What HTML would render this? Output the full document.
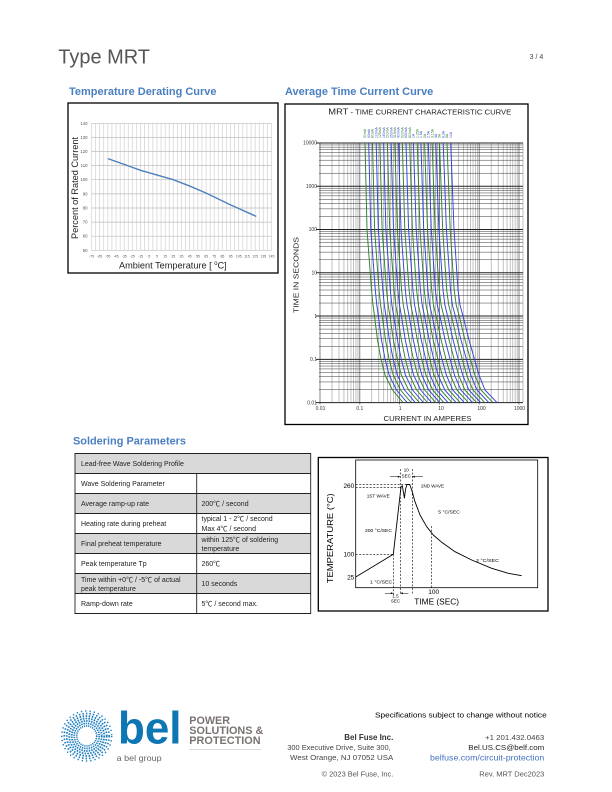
<!DOCTYPE html>
<html><head><meta charset="utf-8"><style>
html,body{margin:0;padding:0;background:#fff;}
svg{display:block;}
text{font-family:"Liberation Sans","Noto Sans CJK JP",sans-serif;}
</style></head><body>
<svg width="612" height="792" viewBox="0 0 612 792" xmlns="http://www.w3.org/2000/svg">
<defs>
<pattern id="vg" x="89.5" y="0" width="4.091" height="10" patternUnits="userSpaceOnUse"><line x1="2" y1="0" x2="2" y2="10" stroke="#c9c9c9" stroke-width="0.6"/></pattern>
</defs>
<rect width="612" height="792" fill="#fff"/>

<!-- header -->
<text x="58.3" y="63.3" font-size="20.5" fill="#555" textLength="91.7" lengthAdjust="spacingAndGlyphs">Type MRT</text>
<text x="543.3" y="59" font-size="7" fill="#444" text-anchor="end">3 / 4</text>

<text x="69" y="95" font-size="11" font-weight="bold" fill="#4a7fc1" textLength="147.5" lengthAdjust="spacingAndGlyphs">Temperature Derating Curve</text>
<text x="285" y="95" font-size="11" font-weight="bold" fill="#4a7fc1" textLength="148.3" lengthAdjust="spacingAndGlyphs">Average Time Current Curve</text>

<!-- Derating chart -->
<rect x="68" y="103" width="210" height="170" fill="#fff" stroke="#000" stroke-width="1.3"/>
<rect x="90" y="123.3" width="182.5" height="127" fill="url(#vg)"/>
<path d="M91.5 123.3H271.5M91.5 137.4H271.5M91.5 151.5H271.5M91.5 165.6H271.5M91.5 179.7H271.5M91.5 193.9H271.5M91.5 208H271.5M91.5 222.1H271.5M91.5 236.2H271.5M91.5 250.3H271.5" stroke="#bdbdbd" stroke-width="0.7" fill="none"/>
<g font-size="4.3" fill="#555" text-anchor="end">
<text x="87.5" y="124.8">140</text><text x="87.5" y="138.9">130</text><text x="87.5" y="153">120</text><text x="87.5" y="167.1">110</text><text x="87.5" y="181.2">100</text><text x="87.5" y="195.4">90</text><text x="87.5" y="209.5">80</text><text x="87.5" y="223.6">70</text><text x="87.5" y="237.7">60</text><text x="87.5" y="251.8">50</text>
</g>
<g font-size="3.5" fill="#555" text-anchor="middle">
<text x="91.5" y="257.3">-75</text><text x="99.7" y="257.3">-65</text><text x="107.9" y="257.3">-55</text><text x="116" y="257.3">-45</text><text x="124.2" y="257.3">-35</text><text x="132.4" y="257.3">-25</text><text x="140.6" y="257.3">-15</text><text x="148.8" y="257.3">-5</text><text x="157" y="257.3">5</text><text x="165.1" y="257.3">15</text><text x="173.3" y="257.3">25</text><text x="181.5" y="257.3">35</text><text x="189.7" y="257.3">45</text><text x="197.9" y="257.3">55</text><text x="206.1" y="257.3">65</text><text x="214.2" y="257.3">75</text><text x="222.4" y="257.3">85</text><text x="230.6" y="257.3">95</text><text x="238.8" y="257.3">105</text><text x="247" y="257.3">115</text><text x="255.1" y="257.3">125</text><text x="263.3" y="257.3">135</text><text x="271.5" y="257.3">145</text>
</g>
<path d="M107.9 158.6L140.6 170.3L173.3 179.7L190 186.2L206 193L230 204.6L256.3 216.4" fill="none" stroke="#4f81bd" stroke-width="1.4"/>
<text transform="translate(77.8,188) rotate(-90)" font-size="9.5" fill="#222" text-anchor="middle" textLength="102" lengthAdjust="spacingAndGlyphs">Percent of Rated Current</text>
<text x="119" y="268.5" font-size="9.5" fill="#222" textLength="107.7" lengthAdjust="spacingAndGlyphs">Ambient Temperature [ <tspan font-size="6" dy="-3.5">o</tspan><tspan dy="3.5">C]</tspan></text>

<!-- TCC chart -->
<rect x="285" y="104" width="243" height="320.5" fill="#fff" stroke="#000" stroke-width="1.3"/>
<text x="328.3" y="114.5" font-size="7" fill="#222" textLength="183" lengthAdjust="spacingAndGlyphs"><tspan font-size="8.5">MRT</tspan> - TIME CURRENT CHARACTERISTIC CURVE</text>
<path fill="none" stroke="#9a9a9a" stroke-width="0.6" d="M331.98 143V402.6M338.99 143V402.6M343.96 143V402.6M347.82 143V402.6M350.97 143V402.6M353.63 143V402.6M355.94 143V402.6M357.98 143V402.6M371.78 143V402.6M378.79 143V402.6M383.76 143V402.6M387.62 143V402.6M390.77 143V402.6M393.43 143V402.6M395.74 143V402.6M397.78 143V402.6M411.58 143V402.6M418.59 143V402.6M423.56 143V402.6M427.42 143V402.6M430.57 143V402.6M433.23 143V402.6M435.54 143V402.6M437.58 143V402.6M451.38 143V402.6M458.39 143V402.6M463.36 143V402.6M467.22 143V402.6M470.37 143V402.6M473.03 143V402.6M475.34 143V402.6M477.38 143V402.6M491.18 143V402.6M498.19 143V402.6M503.16 143V402.6M507.02 143V402.6M510.17 143V402.6M512.83 143V402.6M515.14 143V402.6M517.18 143V402.6M523 143V402.6"/>
<path fill="none" stroke="#666" stroke-width="0.8" d="M320 143V404.5M359.8 143V404.5M399.6 143V404.5M439.4 143V404.5M479.2 143V404.5M519 143V404.5"/>
<path fill="none" stroke="#3a3a3a" stroke-width="0.5" d="M319 389.58H523M319 381.95H523M319 376.55H523M319 372.36H523M319 368.93H523M319 366.03H523M319 363.52H523M319 361.31H523M319 346.31H523M319 338.68H523M319 333.28H523M319 329.09H523M319 325.66H523M319 322.76H523M319 320.25H523M319 318.04H523M319 303.04H523M319 295.41H523M319 290.01H523M319 285.82H523M319 282.39H523M319 279.49H523M319 276.98H523M319 274.77H523M319 259.77H523M319 252.14H523M319 246.74H523M319 242.55H523M319 239.12H523M319 236.22H523M319 233.71H523M319 231.5H523M319 216.5H523M319 208.87H523M319 203.47H523M319 199.28H523M319 195.85H523M319 192.95H523M319 190.44H523M319 188.23H523M319 173.23H523M319 165.6H523M319 160.2H523M319 156.01H523M319 152.58H523M319 149.68H523M319 147.17H523M319 144.96H523"/>
<path fill="none" stroke="#222" stroke-width="1" d="M316 402.6H523M316 359.33H523M316 316.06H523M316 272.79H523M316 229.52H523M316 186.25H523M316 142.98H523"/>
<g font-size="5" fill="#333" text-anchor="end">
<text x="317" y="144.7">10000</text><text x="317" y="188">1000</text><text x="317" y="231.2">100</text><text x="317" y="274.5">10</text><text x="317" y="317.8">1</text><text x="317" y="361">0.1</text><text x="317" y="404.3">0.01</text>
</g>
<g font-size="5" fill="#333" text-anchor="middle">
<text x="320.5" y="410">0.01</text><text x="359.8" y="410">0.1</text><text x="400.2" y="410">1</text><text x="441" y="410">10</text><text x="481.5" y="410">100</text><text x="519.5" y="410">1000</text>
</g>
<text transform="translate(298.5,275) rotate(-90)" font-size="7.5" fill="#222" text-anchor="middle" textLength="76" lengthAdjust="spacingAndGlyphs">TIME IN SECONDS</text>
<text x="427.5" y="421" font-size="7.5" fill="#222" text-anchor="middle" textLength="88" lengthAdjust="spacingAndGlyphs">CURRENT IN AMPERES</text>

<g fill="none" stroke-width="0.95" stroke-linejoin="round">
<polyline stroke="#2a842a" points="365,143 367,229.5 371.5,290 373,305 374.5,316 377.5,340 381,359.3 385,375 392.5,390 403,402.6"/>
<polyline stroke="#3d3ddc" points="368.7,143 370.8,229.5 375.3,290 376.8,305 378.3,316 381.5,340 385.1,359.3 389.1,375 396.5,390 407.1,402.6"/>
<polyline stroke="#2a842a" points="372.5,143 374.6,229.5 379,290 380.6,305 382.2,316 385.5,340 389.1,359.3 393.2,375 400.5,390 411.2,402.6"/>
<polyline stroke="#3d3ddc" points="376.2,143 378.3,229.5 382.8,290 384.3,305 386,316 389.4,340 393.2,359.3 397.3,375 404.6,390 415.3,402.6"/>
<polyline stroke="#2a842a" points="379.9,143 382.1,229.5 386.5,290 388.1,305 389.9,316 393.4,340 397.3,359.3 401.3,375 408.6,390 419.3,402.6"/>
<polyline stroke="#3d3ddc" points="383.6,143 385.9,229.5 390.3,290 391.9,305 393.7,316 397.4,340 401.3,359.3 405.4,375 412.6,390 423.4,402.6"/>
<polyline stroke="#2a842a" points="387.4,143 389.7,229.5 394.1,290 395.7,305 397.6,316 401.4,340 405.4,359.3 409.5,375 416.6,390 427.5,402.6"/>
<polyline stroke="#3d3ddc" points="391.1,143 393.5,229.5 397.8,290 399.5,305 401.4,316 405.3,340 409.5,359.3 413.6,375 420.7,390 431.6,402.6"/>
<polyline stroke="#2a842a" points="394.8,143 397.3,229.5 401.6,290 403.3,305 405.3,316 409.3,340 413.5,359.3 417.7,375 424.7,390 435.7,402.6"/>
<polyline stroke="#3d3ddc" points="398.5,143 401,229.5 405.3,290 407,305 409.1,316 413.3,340 417.6,359.3 421.8,375 428.7,390 439.8,402.6"/>
<polyline stroke="#2a842a" points="402.3,143 404.8,229.5 409.1,290 410.8,305 413,316 417.3,340 421.7,359.3 425.9,375 432.7,390 443.9,402.6"/>
<polyline stroke="#3d3ddc" points="406,143 408.6,229.5 412.9,290 414.6,305 416.8,316 421.3,340 425.7,359.3 430,375 436.7,390 448,402.6"/>
<polyline stroke="#2a842a" points="409.7,143 412.4,229.5 416.6,290 418.4,305 420.7,316 425.2,340 429.8,359.3 434,375 440.8,390 452,402.6"/>
<polyline stroke="#3d3ddc" points="413.4,143 416.2,229.5 420.4,290 422.2,305 424.5,316 429.2,340 433.8,359.3 438.1,375 444.8,390 456.1,402.6"/>
<polyline stroke="#2a842a" points="417.2,143 420,229.5 424.2,290 426,305 428.4,316 433.2,340 437.9,359.3 442.2,375 448.8,390 460.2,402.6"/>
<polyline stroke="#3d3ddc" points="420.9,143 423.7,229.5 427.9,290 429.7,305 432.2,316 437.2,340 442,359.3 446.3,375 452.8,390 464.3,402.6"/>
<polyline stroke="#2a842a" points="424.6,143 427.5,229.5 431.7,290 433.5,305 436.1,316 441.1,340 446,359.3 450.4,375 456.9,390 468.4,402.6"/>
<polyline stroke="#3d3ddc" points="428.3,143 431.3,229.5 435.4,290 437.3,305 439.9,316 445.1,340 450.1,359.3 454.5,375 460.9,390 472.5,402.6"/>
<polyline stroke="#2a842a" points="432.1,143 435.1,229.5 439.2,290 441.1,305 443.8,316 449.1,340 454.2,359.3 458.6,375 464.9,390 476.6,402.6"/>
<polyline stroke="#3d3ddc" points="435.8,143 438.9,229.5 443,290 444.9,305 447.6,316 453.1,340 458.2,359.3 462.7,375 468.9,390 480.7,402.6"/>
<polyline stroke="#2a842a" points="439.5,143 442.7,229.5 446.7,290 448.7,305 451.5,316 457.1,340 462.3,359.3 466.7,375 472.9,390 484.7,402.6"/>
<polyline stroke="#3d3ddc" points="443.2,143 446.4,229.5 450.5,290 452.4,305 455.3,316 461,340 466.4,359.3 470.8,375 477,390 488.8,402.6"/>
<polyline stroke="#2a842a" points="447,143 450.2,229.5 454.2,290 456.2,305 459.2,316 465,340 470.4,359.3 474.9,375 481,390 492.9,402.6"/>
<polyline stroke="#3d3ddc" points="450.7,143 454,229.5 458,290 460,305 463,316 469,340 474.5,359.3 479,375 485,390 497,402.6"/>
</g>
<g font-size="3.4">
<text transform="translate(366.2,138) rotate(-90)" fill="#2a842a">50mA</text>
<text transform="translate(369.9,138) rotate(-90)" fill="#3d3ddc">63mA</text>
<text transform="translate(373.7,138) rotate(-90)" fill="#2a842a">80mA</text>
<text transform="translate(377.4,138) rotate(-90)" fill="#3d3ddc">100mA</text>
<text transform="translate(381.1,138) rotate(-90)" fill="#2a842a">125mA</text>
<text transform="translate(384.8,138) rotate(-90)" fill="#3d3ddc">160mA</text>
<text transform="translate(388.6,138) rotate(-90)" fill="#2a842a">200mA</text>
<text transform="translate(392.3,138) rotate(-90)" fill="#3d3ddc">250mA</text>
<text transform="translate(396,138) rotate(-90)" fill="#2a842a">315mA</text>
<text transform="translate(399.7,138) rotate(-90)" fill="#3d3ddc">400mA</text>
<text transform="translate(403.5,138) rotate(-90)" fill="#2a842a">500mA</text>
<text transform="translate(407.2,138) rotate(-90)" fill="#3d3ddc">630mA</text>
<text transform="translate(410.9,138) rotate(-90)" fill="#2a842a">800mA</text>
<text transform="translate(414.6,138) rotate(-90)" fill="#3d3ddc">1A</text>
<text transform="translate(418.4,138) rotate(-90)" fill="#2a842a">1.25A</text>
<text transform="translate(422.1,138) rotate(-90)" fill="#3d3ddc">1.6A</text>
<text transform="translate(425.8,138) rotate(-90)" fill="#2a842a">2A</text>
<text transform="translate(429.5,138) rotate(-90)" fill="#3d3ddc">2.5A</text>
<text transform="translate(433.3,138) rotate(-90)" fill="#2a842a">3.15A</text>
<text transform="translate(437,138) rotate(-90)" fill="#3d3ddc">4A</text>
<text transform="translate(440.7,138) rotate(-90)" fill="#2a842a">5A</text>
<text transform="translate(444.4,138) rotate(-90)" fill="#3d3ddc">6.3A</text>
<text transform="translate(448.2,138) rotate(-90)" fill="#2a842a">8A</text>
<text transform="translate(451.9,138) rotate(-90)" fill="#3d3ddc">10A</text>
</g>

<!-- Soldering Parameters -->
<text x="73" y="444.5" font-size="11" font-weight="bold" fill="#4a7fc1" textLength="113" lengthAdjust="spacingAndGlyphs">Soldering Parameters</text>
<g stroke="none">
<rect x="75" y="453.5" width="235.7" height="20" fill="#d9d9d9"/>
<rect x="75" y="493.5" width="235.7" height="20" fill="#d9d9d9"/>
<rect x="75" y="533.5" width="235.7" height="20" fill="#d9d9d9"/>
<rect x="75" y="573.5" width="235.7" height="20" fill="#d9d9d9"/>
</g>
<path d="M75 453.5H310.7V613.5H75ZM75 473.5H310.7M75 493.5H310.7M75 513.5H310.7M75 533.5H310.7M75 553.5H310.7M75 573.5H310.7M75 593.5H310.7M196.7 473.5V613.5" fill="none" stroke="#222" stroke-width="0.9"/>
<g font-size="7" fill="#222">
<text x="81" y="465.8">Lead-free Wave Soldering Profile</text>
<text x="81" y="485.8">Wave Soldering Parameter</text>
<text x="81" y="505.8">Average ramp-up rate</text>
<text x="201.5" y="505.8">200℃ / second</text>
<text x="81" y="525.8">Heating rate during preheat</text>
<text x="201.5" y="521.2">typical 1 - 2℃ / second</text>
<text x="201.5" y="530.8">Max 4℃ / second</text>
<text x="81" y="545.8">Final preheat temperature</text>
<text x="201.5" y="541.8">within 125℃ of soldering</text>
<text x="201.5" y="550.8">temperature</text>
<text x="81" y="565.8">Peak temperature Tp</text>
<text x="201.5" y="565.8">260℃</text>
<text x="81" y="581.8">Time within +0℃ / -5℃ of actual</text>
<text x="81" y="590.8">peak temperature</text>
<text x="201.5" y="585.8">10 seconds</text>
<text x="81" y="605.8">Ramp-down rate</text>
<text x="201.5" y="605.8">5℃ / second max.</text>
</g>

<!-- Solder profile -->
<rect x="318.3" y="457.5" width="229.7" height="153.5" fill="#fff" stroke="#000" stroke-width="1.3"/>
<rect x="355.7" y="460" width="182" height="127.7" fill="none" stroke="#000" stroke-width="0.8"/>
<g stroke="#000" stroke-width="0.6" stroke-dasharray="2,1.5" fill="none">
<path d="M355.7 484.3H412M355.7 487.3H401M355.7 554.3H393.3M393.3 554.3V595M400.3 469V595M412.3 469V594M431.7 526V587.7"/>
</g>
<path d="M355.7 577L393.3 554.3L401 487L402.3 485.7L403.4 492L404.4 498L405.7 488.5L407 484.5L409.7 484.5L411.7 490L415 501.7L420 515L426.7 526.7L433.3 535L441.7 542.3L455 551.7L471.7 560L491.7 568.3L508.3 573.3L521.7 575.7" fill="none" stroke="#000" stroke-width="0.9" stroke-linejoin="round"/>
<g stroke="#000" stroke-width="0.5" fill="none">
<path d="M390 476.7H400M412.6 476.7H423M385 593.3H393M400.6 593.3H408.3"/>
</g>
<g fill="#000">
<path d="M400.3 476.7l-2.5-1v2z"/><path d="M412.3 476.7l2.5-1v2z"/>
<path d="M393.3 593.3l-2.5-1v2z"/><path d="M400.3 593.3l2.5-1v2z"/>
</g>
<g font-size="4.5" fill="#000" text-anchor="middle">
<text x="406.3" y="471.5">10</text><text x="406.3" y="477.5">SEC</text>
<text x="395.5" y="597.5">1.5</text><text x="395.5" y="602.3">SEC</text>
</g>
<g font-size="4.8" fill="#000">
<text x="421" y="487.5" textLength="23" lengthAdjust="spacingAndGlyphs">2ND WAVE</text>
<text x="366.7" y="497.5" textLength="23" lengthAdjust="spacingAndGlyphs">1ST WAVE</text>
<text x="438.3" y="513.5" textLength="21.5" lengthAdjust="spacingAndGlyphs">5 °C/SEC</text>
<text x="365" y="531.8" textLength="27" lengthAdjust="spacingAndGlyphs">200 °C/SEC</text>
<text x="476" y="561.8" textLength="23" lengthAdjust="spacingAndGlyphs">2 °C/SEC</text>
<text x="370" y="583.5" textLength="22.3" lengthAdjust="spacingAndGlyphs">1 °C/SEC</text>
</g>
<g font-size="6.5" fill="#000" text-anchor="end">
<text x="354.3" y="488">260</text><text x="354.3" y="556.6">100</text><text x="354.3" y="579.3">25</text>
</g>
<text x="433.7" y="594" font-size="6.5" fill="#000" text-anchor="middle">100</text>
<text x="414.3" y="604.5" font-size="8" fill="#000" textLength="44.7" lengthAdjust="spacingAndGlyphs">TIME (SEC)</text>
<text transform="translate(333,538.3) rotate(-90)" font-size="8" fill="#000" text-anchor="middle" textLength="90" lengthAdjust="spacingAndGlyphs">TEMPERATURE (°C)</text>

<!-- Footer logo -->
<g fill="none" stroke="#1f7fc0">
<circle cx="86.7" cy="736" r="10" stroke-width="1.6" stroke-dasharray="1.2,0.9"/>
<circle cx="86.7" cy="736" r="12.5" stroke-width="1.7" stroke-dasharray="1.4,0.9"/>
<circle cx="86.7" cy="736" r="15" stroke-width="1.8" stroke-dasharray="1.5,1"/>
<circle cx="86.7" cy="736" r="17.5" stroke-width="1.8" stroke-dasharray="1.6,1.2"/>
<circle cx="86.7" cy="736" r="20" stroke-width="1.8" stroke-dasharray="1.6,1.5"/>
<circle cx="86.7" cy="736" r="22.5" stroke-width="1.7" stroke-dasharray="1.5,2"/>
<circle cx="86.7" cy="736" r="25" stroke-width="1.5" stroke-dasharray="1.3,3"/>
</g>
<text x="118" y="743.3" font-size="45" font-weight="bold" fill="#0e76b3" textLength="63.5" lengthAdjust="spacingAndGlyphs">bel</text>
<g font-size="10.6" font-weight="bold" fill="#7a7270">
<text x="189.3" y="723.8" textLength="40.7" lengthAdjust="spacingAndGlyphs">POWER</text>
<text x="189.3" y="733.8" textLength="74" lengthAdjust="spacingAndGlyphs">SOLUTIONS &amp;</text>
<text x="189.3" y="743.8" textLength="71.3" lengthAdjust="spacingAndGlyphs">PROTECTION</text>
</g>
<line x1="189" y1="749.5" x2="261" y2="749.5" stroke="#cfcfcf" stroke-width="0.7"/>
<text x="116.7" y="761" font-size="8.5" fill="#666" textLength="45" lengthAdjust="spacingAndGlyphs">a bel group</text>

<!-- Footer text -->
<text x="375" y="717.6" font-size="7.6" fill="#000" textLength="171.7" lengthAdjust="spacingAndGlyphs">Specifications subject to change without notice</text>
<text x="393.3" y="740.2" font-size="8.4" font-weight="bold" fill="#333" text-anchor="end" textLength="49" lengthAdjust="spacingAndGlyphs">Bel Fuse Inc.</text>
<text x="390.7" y="750" font-size="7.5" fill="#444" text-anchor="end" textLength="103.4" lengthAdjust="spacingAndGlyphs">300 Executive Drive, Suite 300,</text>
<text x="393.3" y="760" font-size="7.5" fill="#444" text-anchor="end" textLength="103.3" lengthAdjust="spacingAndGlyphs">West Orange, NJ 07052 USA</text>
<text x="393.3" y="776.7" font-size="7.2" fill="#555" text-anchor="end" textLength="71.7" lengthAdjust="spacingAndGlyphs">© 2023 Bel Fuse, Inc.</text>
<text x="544.3" y="740" font-size="7.5" fill="#444" text-anchor="end" textLength="59.3" lengthAdjust="spacingAndGlyphs">+1 201.432.0463</text>
<text x="544.3" y="750" font-size="7.5" fill="#222" text-anchor="end" textLength="76" lengthAdjust="spacingAndGlyphs">Bel.US.CS@belf.com</text>
<text x="544.3" y="760.3" font-size="8.3" fill="#4472c4" text-anchor="end" textLength="114.3" lengthAdjust="spacingAndGlyphs">belfuse.com/circuit-protection</text>
<text x="544.3" y="776.7" font-size="7.2" fill="#555" text-anchor="end" textLength="65" lengthAdjust="spacingAndGlyphs">Rev. MRT Dec2023</text>
</svg>
</body></html>
